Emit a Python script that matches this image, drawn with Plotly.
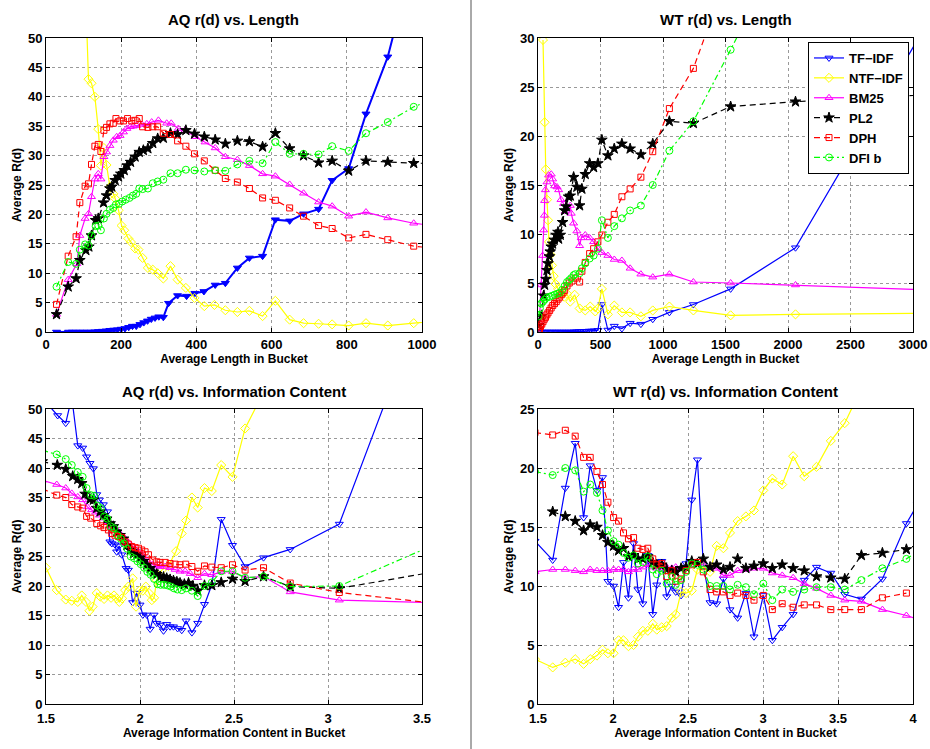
import plotly.graph_objects as go

# ---------------- AQ r(d) vs. Length ----------------
aq_len_tfidf_x = [28, 60, 70, 80, 90, 100, 110, 120, 130, 140, 150, 160, 170, 180, 190, 200, 210, 220, 230, 240, 250, 260, 270, 280, 290, 300, 312, 326, 350, 374, 396, 420, 450, 477, 509, 541, 576, 610, 648, 685, 725, 761, 805, 851, 909, 970]
aq_len_tfidf_y = [0, 0, 0, 0, 0, 0, 0, 0, 0.05, 0.1, 0.15, 0.2, 0.3, 0.35, 0.4, 0.5, 0.6, 0.8, 1.0, 1.0, 1.3, 1.6, 1.9, 2.2, 2.4, 2.6, 2.5, 4.9, 6.2, 6.1, 6.6, 6.9, 8.0, 8.3, 10.9, 12.6, 12.9, 19.1, 18.9, 20.1, 20.9, 25.8, 27.8, 37.1, 46.8, 62]
aq_len_ntf_x = [104, 113, 121, 130, 139, 146, 154, 161, 170, 179, 184, 193, 201, 208, 219, 226, 237, 246, 257, 271, 284, 297, 312, 331, 350, 372, 395, 421, 448, 477, 509, 541, 576, 610, 648, 685, 725, 761, 805, 851, 909, 978, 1040]
aq_len_ntf_y = [60, 43, 42.3, 40, 34.5, 28.3, 31.3, 28.4, 24.7, 23.5, 22.7, 20.7, 18.1, 17.3, 15.9, 15.3, 14.2, 14, 12.6, 10.9, 10.6, 10.0, 9.1, 11.2, 8.9, 7.5, 5.8, 4.4, 4.6, 3.7, 3.4, 3.6, 2.7, 5.3, 2.1, 1.5, 1.4, 1.3, 1.1, 1.5, 1.1, 1.5, 1.9]
aq_len_bm25_x = [28, 59, 82, 90, 104, 113, 121, 130, 139, 146, 154, 161, 170, 179, 188, 197, 206, 215, 224, 232, 241, 255, 268, 281, 299, 321, 333, 352, 370, 397, 423, 450, 477, 509, 541, 576, 610, 648, 685, 725, 761, 805, 851, 909, 978, 1040]
aq_len_bm25_y = [3, 8.9, 11.6, 16.4, 19.3, 20.1, 23, 26, 26.9, 26, 29.8, 30.6, 31.7, 32.6, 33.2, 33.4, 34, 34.6, 34.9, 35, 35.1, 35.3, 35.4, 35.7, 36, 35.5, 35.5, 34.6, 34.3, 33.2, 32.3, 31.3, 29.8, 29.3, 28.3, 26.9, 26.5, 25.1, 23.6, 22.1, 21.4, 19.7, 20.4, 19.4, 18.5, 18.0]
aq_len_pl2_x = [28, 59, 80, 90, 106, 114, 121, 132, 139, 153, 161, 170, 175, 184, 193, 199, 208, 216, 225, 237, 248, 259, 271, 284, 297, 312, 331, 350, 372, 395, 421, 450, 477, 509, 541, 576, 610, 648, 685, 725, 761, 805, 851, 909, 978, 1040]
aq_len_pl2_y = [3, 7.7, 9.1, 12.2, 13.9, 14.5, 16.4, 19, 19.3, 22, 23.2, 24.4, 24.7, 25.8, 26.4, 26.9, 27.5, 28.3, 28.9, 29.8, 30.6, 30.9, 31.2, 32.1, 32.9, 33, 33.8, 33.6, 34.3, 33.7, 33.2, 32.7, 32, 32.5, 32.4, 31.5, 33.8, 31.2, 30, 28.8, 29.1, 27.4, 29.1, 28.9, 28.7, 28.7]
aq_len_dph_x = [28, 59, 80, 90, 104, 113, 121, 130, 139, 146, 154, 161, 170, 179, 186, 197, 206, 217, 228, 237, 248, 257, 271, 284, 297, 312, 331, 350, 372, 395, 421, 450, 477, 509, 541, 576, 610, 648, 685, 725, 761, 805, 851, 909, 978, 1040]
aq_len_dph_y = [4.7, 12.9, 16.2, 22, 24.8, 25.2, 28.5, 31.6, 31.9, 30.7, 34.3, 34.8, 35.4, 35.5, 36.3, 35.9, 35.9, 36.3, 35.9, 36, 36.3, 34.9, 34.8, 34.9, 34.9, 33.8, 33.6, 32.5, 31.6, 30.3, 29.1, 27.5, 26.1, 25.5, 24.4, 22.8, 22.4, 21.1, 19.7, 18.1, 17.6, 16, 16.6, 15.7, 14.6, 14.2]
aq_len_dfi_x = [28, 59, 80, 90, 104, 113, 121, 132, 139, 146, 154, 161, 170, 179, 186, 194, 203, 212, 222, 231, 240, 248, 257, 271, 284, 297, 312, 331, 350, 372, 395, 421, 450, 477, 509, 541, 576, 610, 648, 685, 725, 761, 805, 851, 909, 978, 1040]
aq_len_dfi_y = [7.7, 11.9, 11.6, 14, 14.9, 14.7, 16.4, 18, 18.1, 17.3, 19.3, 20.1, 20.8, 21.1, 21.7, 21.8, 22.2, 22.5, 22.8, 23.2, 23.5, 24.4, 24.3, 24.4, 25.3, 25.6, 25.9, 27, 27, 27.6, 27.5, 27.3, 27.5, 27.4, 28.5, 29.1, 28.7, 32.3, 30.3, 30.3, 30.2, 31.6, 30.8, 33.8, 35.7, 38.3, 39.8]

# ---------------- WT r(d) vs. Length ----------------
wt_len_tfidf_x = [10, 30, 50, 70, 90, 110, 130, 150, 170, 190, 210, 230, 250, 270, 290, 310, 330, 350, 370, 390, 410, 430, 450, 479, 511, 559, 610, 671, 737, 823, 918, 1051, 1243, 1541, 2060, 3100]
wt_len_tfidf_y = [0, 0, 0, 0, 0, 0, 0, 0, 0, 0, 0, 0, 0, 0, 0.02, 0.03, 0.05, 0.05, 0.07, 0.08, 0.1, 0.1, 0.12, 0.17, 2.8, 0.2, 0.6, 0.35, 0.9, 0.8, 1.3, 2.0, 2.8, 4.4, 8.6, 31.2]
wt_len_ntf_x = [40, 53, 62, 72, 80, 88, 100, 112, 125, 140, 160, 185, 210, 232, 258, 293, 333, 378, 418, 458, 479, 511, 559, 610, 671, 737, 823, 918, 1051, 1243, 1541, 2060, 3100]
wt_len_ntf_y = [29.8, 21.4, 16.6, 13.5, 11.4, 9.2, 7.9, 6.8, 5.7, 4.9, 4.4, 4.0, 3.6, 3.9, 3.1, 3.8, 2.4, 2.2, 2.6, 2.1, 2.4, 4.4, 1.8, 2.7, 2.0, 2.0, 1.6, 2.2, 2.6, 2.2, 1.7, 1.8, 1.9]
wt_len_bm25_x = [11, 27, 37, 45, 51, 53, 59, 72, 85, 106, 117, 133, 152, 165, 184, 205, 218, 258, 266, 285, 311, 333, 346, 378, 413, 445, 479, 511, 559, 610, 671, 737, 823, 918, 1051, 1243, 1541, 2060, 3100]
wt_len_bm25_y = [1.0, 4.8, 7.8, 10.4, 11.9, 13.4, 14.5, 15.3, 16, 16.1, 15.6, 14.9, 14.8, 14.5, 13.5, 13.1, 12.3, 12.9, 12.1, 11.1, 10.3, 8.8, 9.6, 9.9, 9.6, 9.2, 8.5, 8.1, 7.8, 7.4, 7.3, 6.5, 5.9, 5.6, 5.9, 5.1, 5.0, 4.8, 4.3]
wt_len_pl2_x = [5, 27, 45, 53, 64, 72, 80, 91, 98, 106, 117, 130, 144, 160, 165, 178, 197, 213, 226, 245, 258, 285, 311, 333, 351, 378, 413, 445, 479, 511, 559, 610, 671, 737, 823, 918, 1051, 1243, 1541, 2060, 3100]
wt_len_pl2_y = [0.7, 1.6, 3.7, 4.8, 5.4, 6.3, 7.0, 7.7, 8.2, 8.7, 9.0, 9.4, 9.9, 10.2, 9.5, 9.9, 11.2, 12.4, 12.8, 13.8, 13.9, 15.8, 14.8, 12.9, 14.6, 16.1, 17.2, 16.8, 17.2, 19.6, 18.0, 18.7, 19.2, 18.7, 18.1, 19.2, 21.5, 21.3, 23.0, 23.5, 24.2]
wt_len_dph_x = [5, 12, 20, 30, 40, 50, 60, 70, 80, 93, 105, 118, 132, 146, 160, 173, 186, 200, 213, 232, 250, 272, 298, 333, 351, 378, 413, 445, 479, 511, 559, 610, 671, 737, 823, 918, 1051, 1243, 1450]
wt_len_dph_y = [0.1, 0.3, 0.55, 0.8, 1.05, 1.3, 1.5, 1.75, 1.95, 2.2, 2.45, 2.7, 2.9, 3.1, 3.35, 3.55, 3.8, 4.0, 4.25, 4.7, 5.0, 5.2, 5.5, 5.1, 6.2, 7.1, 8.0, 8.5, 9.2, 9.9, 11.2, 12.0, 13.8, 14.6, 15.8, 18.4, 22.8, 26.9, 34.2]
wt_len_dfi_x = [5, 15, 26, 40, 53, 70, 93, 113, 133, 153, 173, 193, 213, 232, 250, 266, 285, 298, 333, 351, 378, 413, 445, 479, 511, 559, 610, 671, 737, 823, 918, 1051, 1243, 1541, 1700]
wt_len_dfi_y = [1.6, 2.4, 2.9, 3.1, 3.3, 3.5, 3.6, 3.7, 3.8, 3.9, 4.0, 4.3, 4.7, 5.1, 5.3, 5.5, 5.8, 5.9, 6.0, 6.5, 7.0, 7.5, 7.8, 8.5, 11.4, 9.6, 10.8, 11.6, 12.4, 12.9, 15.0, 18.5, 21.5, 28.8, 32.8]

# ---------------- AQ r(d) vs. Information Content ----------------
aq_ic_tfidf_x = [1.49, 1.562, 1.605, 1.637, 1.669, 1.695, 1.716, 1.734, 1.752, 1.77, 1.784, 1.805, 1.827, 1.84, 1.85, 1.867, 1.876, 1.889, 1.903, 1.926, 1.938, 1.961, 1.983, 2.0, 2.015, 2.036, 2.054, 2.075, 2.089, 2.107, 2.125, 2.142, 2.16, 2.178, 2.2, 2.222, 2.245, 2.276, 2.307, 2.343, 2.382, 2.432, 2.492, 2.559, 2.657, 2.799, 3.06, 3.35]
aq_ic_tfidf_y = [51.5, 48.9, 47.6, 52, 43.8, 43.4, 41.9, 40.8, 39.9, 35.5, 34.6, 33.8, 32.6, 27.5, 27.2, 27.0, 25.8, 26.8, 25.3, 23.0, 22.7, 17.2, 18.8, 16.8, 15.1, 15.1, 12.7, 15.1, 13.7, 13.4, 12.4, 13.5, 13.1, 13.1, 12.8, 12.5, 14.1, 12.1, 13.7, 16.9, 20.2, 31.3, 26.9, 23.3, 24.8, 26.2, 30.5, 55]
aq_ic_ntf_x = [1.5, 1.557, 1.605, 1.637, 1.669, 1.69, 1.713, 1.731, 1.748, 1.77, 1.788, 1.809, 1.827, 1.846, 1.862, 1.876, 1.89, 1.905, 1.921, 1.938, 1.961, 1.979, 1.997, 2.015, 2.031, 2.048, 2.063, 2.075, 2.089, 2.116, 2.151, 2.192, 2.222, 2.245, 2.276, 2.307, 2.343, 2.382, 2.432, 2.492, 2.559, 2.66]
aq_ic_ntf_y = [23.1, 19.3, 17.7, 17.5, 17.3, 18.4, 17.3, 15.8, 16.5, 18.8, 18.2, 17.8, 18.4, 18.0, 18.4, 17.9, 17.3, 17.9, 19.3, 19.9, 21.3, 16.5, 19.2, 19.2, 19.9, 18.8, 17.6, 18.0, 21.0, 22.7, 23.4, 25.9, 28.9, 31.1, 35.0, 33.3, 36.6, 36.1, 40.5, 38.5, 46.7, 53]
aq_ic_bm25_x = [1.48, 1.557, 1.605, 1.637, 1.669, 1.695, 1.72, 1.743, 1.764, 1.784, 1.805, 1.827, 1.846, 1.867, 1.885, 1.903, 1.921, 1.938, 1.956, 1.974, 1.992, 2.009, 2.027, 2.045, 2.068, 2.089, 2.107, 2.134, 2.16, 2.187, 2.213, 2.24, 2.267, 2.307, 2.343, 2.382, 2.432, 2.492, 2.559, 2.657, 2.799, 3.06, 3.53]
aq_ic_bm25_y = [37.9, 37.2, 36.6, 35.7, 35.1, 34.6, 33.4, 32.9, 32.5, 32.0, 31.5, 30.9, 30.1, 29.7, 29.2, 28.5, 28.0, 27.4, 26.8, 26.3, 25.8, 25.4, 24.8, 24.1, 23.6, 23.4, 23.3, 23.3, 23.1, 22.8, 22.5, 22.5, 22.1, 21.4, 22.1, 21.9, 22.4, 22.4, 21.4, 21.6, 19.0, 17.6, 17.2]
aq_ic_pl2_x = [1.48, 1.56, 1.605, 1.642, 1.669, 1.69, 1.708, 1.734, 1.752, 1.77, 1.788, 1.805, 1.823, 1.841, 1.858, 1.876, 1.894, 1.912, 1.93, 1.948, 1.965, 1.983, 2.0, 2.018, 2.036, 2.054, 2.071, 2.089, 2.107, 2.125, 2.142, 2.16, 2.178, 2.196, 2.213, 2.236, 2.258, 2.281, 2.307, 2.343, 2.382, 2.432, 2.492, 2.559, 2.657, 2.799, 3.06, 3.53]
aq_ic_pl2_y = [41.1, 40.5, 39.8, 38.6, 38.1, 37.4, 35.6, 34.7, 34.6, 33.2, 32.6, 32.0, 31.4, 30.6, 30.1, 29.2, 28.6, 28.0, 26.9, 26.1, 25.5, 25.3, 24.8, 24.2, 23.6, 23.0, 22.4, 22.0, 21.6, 21.5, 21.3, 21.1, 20.9, 20.7, 20.5, 20.3, 20.5, 20.0, 19.2, 20.1, 20.1, 20.6, 21.2, 20.8, 21.6, 19.9, 19.6, 22.2]
aq_ic_dph_x = [1.48, 1.557, 1.605, 1.637, 1.669, 1.695, 1.716, 1.738, 1.77, 1.791, 1.809, 1.832, 1.85, 1.867, 1.885, 1.903, 1.921, 1.938, 1.956, 1.974, 1.992, 2.009, 2.027, 2.045, 2.068, 2.089, 2.107, 2.134, 2.16, 2.187, 2.213, 2.243, 2.276, 2.307, 2.343, 2.382, 2.432, 2.492, 2.559, 2.657, 2.799, 3.06, 3.53]
aq_ic_dph_y = [36.5, 35.4, 35.0, 33.8, 33.4, 33.2, 31.8, 31.5, 30.6, 30.2, 29.9, 29.5, 28.9, 28.6, 28.4, 28.2, 27.5, 27.1, 26.7, 26.5, 26.4, 26.1, 25.8, 25.3, 24.4, 24.1, 24.0, 24.0, 23.8, 23.7, 23.6, 23.7, 23.3, 22.5, 23.4, 23.2, 23.1, 23.6, 22.7, 23.1, 20.5, 18.9, 17.2]
aq_ic_dfi_x = [1.48, 1.557, 1.605, 1.637, 1.669, 1.695, 1.716, 1.738, 1.756, 1.773, 1.791, 1.809, 1.827, 1.844, 1.862, 1.88, 1.898, 1.915, 1.933, 1.951, 1.969, 1.986, 2.004, 2.022, 2.039, 2.057, 2.075, 2.093, 2.11, 2.128, 2.146, 2.164, 2.181, 2.199, 2.222, 2.245, 2.276, 2.307, 2.343, 2.382, 2.432, 2.492, 2.559, 2.657, 2.799, 3.06, 3.53]
aq_ic_dfi_y = [43.0, 42.3, 41.5, 40.5, 39.3, 38.5, 36.6, 35.4, 35.3, 33.6, 33.2, 31.8, 31.4, 30.1, 29.8, 28.6, 28.0, 27.2, 26.3, 25.0, 24.7, 24.2, 23.7, 23.1, 22.4, 21.9, 21.2, 20.3, 20.2, 20.2, 20.1, 19.9, 19.6, 19.4, 19.3, 19.6, 19.2, 18.3, 20.0, 20.6, 22.5, 22.5, 21.4, 21.6, 19.9, 20.0, 26.5]

# ---------------- WT r(d) vs. Information Content ----------------
wt_ic_x = [1.48, 1.598, 1.682, 1.748, 1.804, 1.848, 1.893, 1.93, 1.966, 2.004, 2.037, 2.07, 2.103, 2.137, 2.166, 2.199, 2.232, 2.265, 2.292, 2.325, 2.358, 2.392, 2.418, 2.454, 2.487, 2.525, 2.563, 2.602, 2.647, 2.691, 2.736, 2.78, 2.831, 2.886, 2.94, 3.002, 3.062, 3.128, 3.201, 3.275, 3.357, 3.452, 3.545, 3.656, 3.796, 3.956, 4.03]
wt_ic_tfidf_y = [13.8, 12.2, 18.3, 22.1, 15.8, 20.2, 18.1, 19.2, 10.4, 10.0, 8.2, 12.0, 9.0, 13.6, 9.7, 8.5, 12.6, 7.6, 10.1, 12.1, 9.1, 10.0, 9.5, 9.2, 11.9, 17.3, 20.7, 11.8, 8.6, 8.5, 10.6, 8.0, 7.3, 9.4, 5.7, 9.2, 5.4, 6.5, 7.6, 10.5, 11.6, 11.1, 9.3, 8.9, 10.6, 15.3, 16.9]
wt_ic_ntf_x = [1.48, 1.598, 1.682, 1.748, 1.804, 1.848, 1.893, 1.93, 1.966, 2.004, 2.037, 2.07, 2.103, 2.137, 2.166, 2.199, 2.232, 2.265, 2.292, 2.325, 2.358, 2.392, 2.418, 2.454, 2.487, 2.525, 2.563, 2.602, 2.647, 2.691, 2.736, 2.78, 2.831, 2.886, 2.94, 3.002, 3.062, 3.128, 3.201, 3.275, 3.357, 3.452, 3.545, 3.65]
wt_ic_ntf_y = [3.8, 3.1, 3.5, 3.8, 3.4, 3.8, 4.1, 4.6, 4.3, 4.3, 5.4, 5.4, 4.9, 5.0, 5.7, 6.2, 6.2, 6.8, 6.3, 6.5, 6.6, 7.3, 7.6, 9.5, 9.4, 9.6, 11.4, 11.6, 11.2, 13.4, 13.2, 14.5, 15.5, 15.9, 16.4, 18.1, 19.1, 18.6, 21.0, 19.3, 20.1, 22.3, 23.8, 26.6]
wt_ic_bm25_y = [11.2, 11.4, 11.4, 11.3, 11.2, 11.4, 11.3, 11.3, 11.3, 11.4, 11.4, 11.4, 11.2, 11.4, 11.4, 11.6, 11.8, 11.6, 11.5, 11.6, 11.6, 11.5, 11.6, 11.5, 11.6, 11.8, 11.9, 11.8, 11.6, 11.5, 10.9, 10.9, 11.3, 11.4, 11.5, 11.5, 11.1, 10.9, 10.7, 10.2, 9.8, 9.2, 8.8, 8.7, 8.0, 7.5, 7.2]
wt_ic_pl2_x = wt_ic_x[1:]
wt_ic_pl2_y = [16.3, 15.9, 15.5, 14.7, 15.2, 15.0, 14.3, 13.7, 13.4, 13.0, 13.2, 12.5, 12.6, 12.3, 12.3, 12.5, 12.0, 11.8, 11.8, 11.4, 11.3, 11.2, 11.5, 11.6, 12.1, 11.9, 12.3, 11.6, 11.8, 11.4, 11.6, 12.3, 11.5, 11.7, 11.9, 11.5, 11.8, 11.5, 11.3, 10.8, 10.7, 10.6, 12.6, 12.8, 13.1, 13.2]
wt_ic_dph_x = wt_ic_x[:-1]
wt_ic_dph_y = [23.0, 22.8, 23.2, 22.7, 20.9, 20.9, 19.7, 18.6, 17.1, 15.8, 15.5, 14.5, 14.0, 14.1, 13.2, 13.1, 13.2, 12.3, 11.8, 11.9, 10.8, 11.3, 10.4, 10.6, 11.3, 11.8, 12.0, 11.2, 9.7, 9.5, 9.5, 9.2, 9.4, 9.2, 8.8, 9.2, 8.0, 8.5, 8.2, 8.4, 8.4, 8.0, 8.0, 8.0, 9.0, 9.4]
wt_ic_dfi_y = [19.7, 19.4, 20.0, 19.8, 18.0, 18.6, 17.9, 16.4, 14.7, 13.8, 13.5, 12.8, 12.4, 12.6, 11.9, 12.0, 12.5, 11.4, 11.0, 11.3, 10.2, 10.8, 10.1, 10.5, 11.2, 11.9, 11.8, 11.4, 10.0, 10.0, 10.0, 9.7, 10.1, 9.9, 9.3, 10.2, 8.8, 9.7, 9.5, 9.7, 9.9, 9.9, 9.7, 10.5, 11.5, 12.3, 12.9]

series_names = ["TF\u2212IDF", "NTF\u2212IDF", "BM25", "PL2", "DPH", "DFI b"]

FONT = "Liberation Sans, Arial, Helvetica, sans-serif"
W, H = 930, 749

styles = [
    dict(color="#0000FF", symbol="triangle-down-open", dash="solid", size=7),
    dict(color="#FFFF00", symbol="diamond-open", dash="solid", size=7),
    dict(color="#FF00FF", symbol="triangle-up-open", dash="solid", size=7),
    dict(color="#000000", symbol="star", dash="6px,4px", size=8),
    dict(color="#FF0000", symbol="square-open", dash="6px,4px", size=6),
    dict(color="#00FF00", symbol="circle-open", dash="6px,3px,2px,3px", size=7),
]

panels = [
    ("x", "y", [(aq_len_tfidf_x, aq_len_tfidf_y), (aq_len_ntf_x, aq_len_ntf_y), (aq_len_bm25_x, aq_len_bm25_y),
                (aq_len_pl2_x, aq_len_pl2_y), (aq_len_dph_x, aq_len_dph_y), (aq_len_dfi_x, aq_len_dfi_y)]),
    ("x2", "y2", [(wt_len_tfidf_x, wt_len_tfidf_y), (wt_len_ntf_x, wt_len_ntf_y), (wt_len_bm25_x, wt_len_bm25_y),
                  (wt_len_pl2_x, wt_len_pl2_y), (wt_len_dph_x, wt_len_dph_y), (wt_len_dfi_x, wt_len_dfi_y)]),
    ("x3", "y3", [(aq_ic_tfidf_x, aq_ic_tfidf_y), (aq_ic_ntf_x, aq_ic_ntf_y), (aq_ic_bm25_x, aq_ic_bm25_y),
                  (aq_ic_pl2_x, aq_ic_pl2_y), (aq_ic_dph_x, aq_ic_dph_y), (aq_ic_dfi_x, aq_ic_dfi_y)]),
    ("x4", "y4", [(wt_ic_x, wt_ic_tfidf_y), (wt_ic_ntf_x, wt_ic_ntf_y), (wt_ic_x, wt_ic_bm25_y),
                  (wt_ic_pl2_x, wt_ic_pl2_y), (wt_ic_dph_x, wt_ic_dph_y), (wt_ic_x, wt_ic_dfi_y)]),
]

fig = go.Figure()
for pi, (xa, ya, data) in enumerate(panels):
    for si, (xs, ys) in enumerate(data):
        st = styles[si]
        symbol = st["symbol"]
        lw = 1.2
        if pi == 0 and si == 0:
            symbol = "triangle-down"
            lw = 2
        fig.add_trace(go.Scatter(
            x=xs, y=ys, xaxis=xa, yaxis=ya, mode="lines+markers",
            name=series_names[si], showlegend=(pi == 1),
            line=dict(color=st["color"], width=lw, dash=st["dash"]),
            marker=dict(symbol=symbol, size=st["size"], color=st["color"],
                        line=dict(color=st["color"], width=1)),
        ))

def px_x(p):
    return p / W

def px_y(p):
    return 1 - p / H

left_dom = [px_x(46), px_x(422)]
right_dom = [px_x(538), px_x(913)]
top_dom = [px_y(332), px_y(38)]
bot_dom = [px_y(704), px_y(409)]

tickfont = dict(family=FONT, size=13, color="black", weight="bold")
titlefont = dict(family=FONT, size=12, color="black", weight="bold")

def xaxis(dom, anchor, rng, dtick, title, label_pad):
    return dict(domain=dom, anchor=anchor, range=rng, dtick=dtick, tick0=0,
                showline=True, linecolor="black", linewidth=1, mirror="allticks",
                ticks="inside", ticklen=4, tickcolor="black", tickwidth=1,
                showgrid=True, gridcolor="#999999", griddash="dot", gridwidth=1,
                zeroline=False, tickfont=tickfont, ticklabelstandoff=label_pad,
                title=dict(text=title, font=titlefont, standoff=0), automargin=False)

def yaxis(dom, anchor, rng, dtick):
    return dict(domain=dom, anchor=anchor, range=rng, dtick=dtick, tick0=0,
                showline=True, linecolor="black", linewidth=1, mirror="allticks",
                ticks="inside", ticklen=4, tickcolor="black", tickwidth=1,
                showgrid=True, gridcolor="#999999", griddash="dot", gridwidth=1,
                zeroline=False, tickfont=tickfont,
                title=dict(text="Average R(d)", font=titlefont, standoff=3), automargin=False)

fig.update_layout(
    width=W, height=H,
    margin=dict(l=0, r=0, t=0, b=0),
    paper_bgcolor="white", plot_bgcolor="white",
    font=dict(family=FONT, color="black"),
    xaxis=xaxis(left_dom, "y", [0, 1000], 200, "Average Length in Bucket", 0),
    yaxis=yaxis(top_dom, "x", [0, 50], 5),
    xaxis2=xaxis(right_dom, "y2", [0, 3000], 500, "Average Length in Bucket", 0),
    yaxis2=yaxis(top_dom, "x2", [0, 30], 5),
    xaxis3=xaxis(left_dom, "y3", [1.5, 3.5], 0.5, "Average Information Content in Bucket", 2),
    yaxis3=yaxis(bot_dom, "x3", [0, 50], 5),
    xaxis4=xaxis(right_dom, "y4", [1.5, 4], 0.5, "Average Information Content in Bucket", 2),
    yaxis4=yaxis(bot_dom, "x4", [0, 25], 5),
    legend=dict(x=px_x(909), y=px_y(42), xanchor="right", yanchor="top",
                bgcolor="white", bordercolor="black", borderwidth=1,
                font=dict(family=FONT, size=13, color="black", weight="bold"),
                tracegroupgap=0, itemwidth=30),
    shapes=[dict(type="line", xref="paper", yref="paper", x0=px_x(471), x1=px_x(471),
                 y0=0, y1=1, line=dict(color="#555555", width=1))],
)

titles = [
    ("AQ r(d) vs. Length", (46 + 422) / 2, 20),
    ("WT r(d) vs. Length", (538 + 913) / 2, 20),
    ("AQ r(d) vs. Information Content", (46 + 422) / 2, 391),
    ("WT r(d) vs. Information Content", (538 + 913) / 2, 391),
]
for text, cx, cy in titles:
    fig.add_annotation(text=text, x=px_x(cx), y=px_y(cy), xref="paper", yref="paper",
                       showarrow=False, xanchor="center", yanchor="middle",
                       font=dict(family=FONT, size=15, color="black", weight="bold"))

fig.write_html("out.html", config={"displayModeBar": False},
               post_script="document.body.style.margin='0';document.body.style.padding='0';document.body.style.overflow='hidden';")
